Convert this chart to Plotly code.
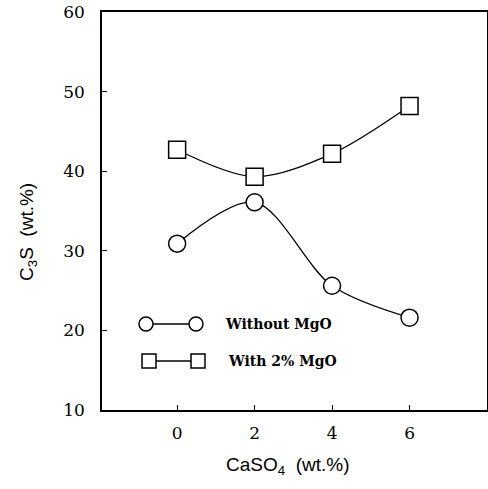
import plotly.graph_objects as go

caso4 = [0, 2, 4, 6]
without_mgo = [30.9, 36.1, 25.6, 21.6]
with_mgo = [42.7, 39.3, 42.2, 48.2]
y_ticks = [10, 20, 30, 40, 50, 60]
x_ticks = [0, 2, 4, 6]
series_names = ["Without MgO", "With 2% MgO"]

W, H = 488, 489
L, R, T, B = 102, 487, 12, 410


def px(x):
    return (x - L) / (R - L)


def py(y):
    return (B - y) / (B - T)


fig = go.Figure()
fig.add_trace(go.Scatter(
    x=caso4, y=without_mgo, mode="lines+markers", name=series_names[0],
    line=dict(color="black", width=1.3, shape="spline", smoothing=0.9),
    marker=dict(symbol="circle", size=17, color="white", line=dict(color="black", width=1.5)),
    showlegend=False))
fig.add_trace(go.Scatter(
    x=caso4, y=with_mgo, mode="lines+markers", name=series_names[1],
    line=dict(color="black", width=1.3, shape="spline", smoothing=0.9),
    marker=dict(symbol="square", size=17, color="white", line=dict(color="black", width=1.5)),
    showlegend=False))

shapes = []
# legend: circles
for cx in (146, 196):
    shapes.append(dict(type="circle", xref="paper", yref="paper",
                       x0=px(cx - 7), x1=px(cx + 7), y0=py(324 + 7), y1=py(324 - 7),
                       line=dict(color="black", width=1.5), fillcolor="white"))
shapes.append(dict(type="line", xref="paper", yref="paper",
                   x0=px(153), x1=px(189), y0=py(324), y1=py(324),
                   line=dict(color="black", width=1.3)))
for cx in (149, 198):
    shapes.append(dict(type="rect", xref="paper", yref="paper",
                       x0=px(cx - 7), x1=px(cx + 7), y0=py(361 + 7), y1=py(361 - 7),
                       line=dict(color="black", width=1.5), fillcolor="white"))
shapes.append(dict(type="line", xref="paper", yref="paper",
                   x0=px(156), x1=px(191), y0=py(361), y1=py(361),
                   line=dict(color="black", width=1.3)))

annotations = [
    dict(text="Without MgO", xref="paper", yref="paper", x=px(223), y=py(324),
         xanchor="left", yanchor="middle", showarrow=False,
         font=dict(family="DejaVu Serif", size=14, color="black", weight="bold")),
    dict(text="With 2% MgO", xref="paper", yref="paper", x=px(226), y=py(361),
         xanchor="left", yanchor="middle", showarrow=False,
         font=dict(family="DejaVu Serif", size=14, color="black", weight="bold")),
    dict(text="CaSO<sub>4</sub>  (wt.%)", xref="paper", yref="paper", x=px(288), y=py(466),
         xanchor="center", yanchor="middle", showarrow=False,
         font=dict(family="Liberation Sans", size=19, color="black")),
    dict(text="C<sub>3</sub>S  (wt.%)", xref="paper", yref="paper", x=px(28), y=py(232),
         xanchor="center", yanchor="middle", showarrow=False, textangle=-90,
         font=dict(family="Liberation Sans", size=19, color="black")),
]

fig.update_layout(
    template="none",
    width=W, height=H,
    margin=dict(l=L, r=W - R, t=T, b=H - B, pad=0),
    paper_bgcolor="white", plot_bgcolor="white",
    shapes=shapes, annotations=annotations,
    xaxis=dict(range=[-1.94, 8.0], tickvals=x_ticks, ticks="inside", ticklen=5,
               tickwidth=1.2, tickcolor="black", showgrid=False, zeroline=False,
               showline=True, linecolor="black", linewidth=1.5, mirror=True,
               automargin=False,
               tickfont=dict(family="DejaVu Serif", size=17, color="black"),
               ticklabelstandoff=7),
    yaxis=dict(range=[10, 60], tickvals=y_ticks, ticks="inside", ticklen=5,
               tickwidth=1.2, tickcolor="black", showgrid=False, zeroline=False,
               showline=True, linecolor="black", linewidth=1.5, mirror=True,
               automargin=False,
               tickfont=dict(family="DejaVu Serif", size=17, color="black"),
               ticklabelstandoff=12),
)

fig.write_html(
    "out.html",
    config={"displayModeBar": False},
    post_script="document.body.style.margin='0';document.body.style.padding='0';document.body.style.overflow='hidden';",
)
